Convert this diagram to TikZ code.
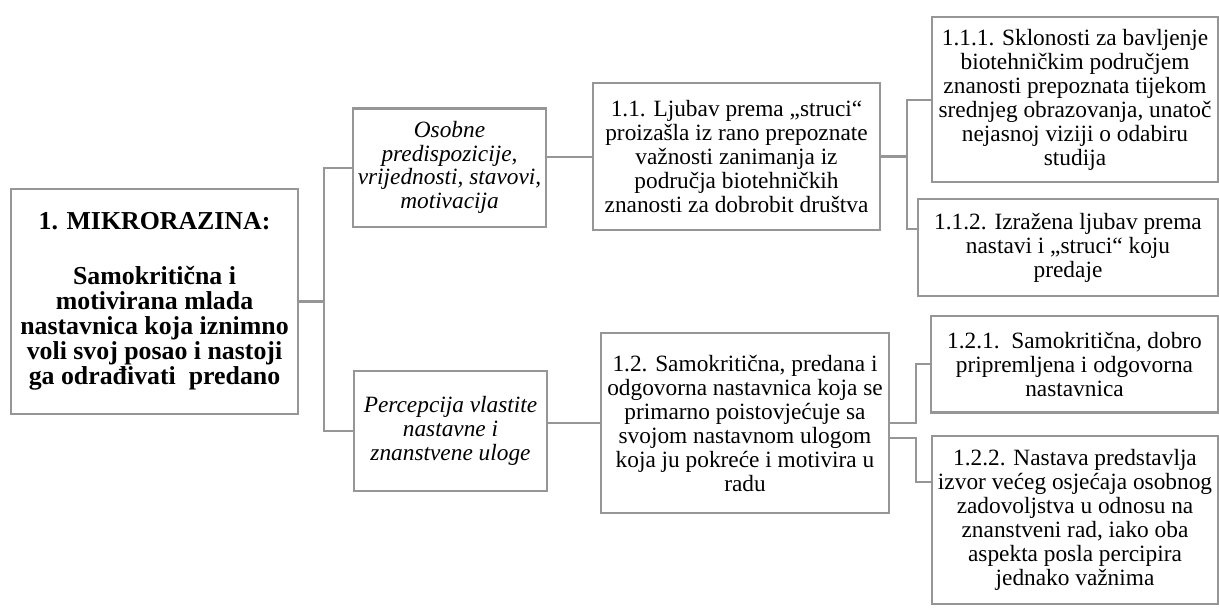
\documentclass[tikz,border=0pt]{standalone}
\usepackage{fontspec}
\setmainfont{Liberation Serif}
\definecolor{boxgray}{RGB}{150,150,150}

\begin{document}
\begin{tikzpicture}
		[
			x=0.6pt, y=-0.6pt,
			box/.style={draw=boxgray, line width=1.4pt, fill=white, align=center, inner sep=0pt, font=\fontsize{14}{14.4}\selectfont},
			rootbox/.style={box, font=\fontsize{15.5}{15}\selectfont\bfseries},
			midbox/.style={box, font=\fontsize{14}{14.2}\selectfont\itshape},
			edge/.style={draw=boxgray, line width=1.2pt},
			stem/.style={draw=boxgray, line width=2pt},
		]

		\useasboundingbox (0,0) rectangle (1219,608);

		% Nodes
		\node[rootbox, minimum width=172pt, minimum height=135pt] (root) at (154.5,301.5)
			{1. MIKRORAZINA:\\[18pt] Samokritična i\\ motivirana mlada\\ nastavnica koja iznimno\\ voli svoj posao i nastoji\\ ga odrađivati~ predano};
		\node[midbox, minimum width=116pt, minimum height=71pt] (osobne) at (449.5,167.5)
			{Osobne\\ predispozicije,\\ vrijednosti, stavovi,\\ motivacija};
		\node[midbox, minimum width=116pt, minimum height=72pt] (percep) at (450.5,431)
			{Percepcija vlastite\\ nastavne i\\ znanstvene uloge};
		\node[box, minimum width=172pt, minimum height=88pt] (b11) at (736.5,156.5)
			{1.1. Ljubav prema „struci“\\ proizašla iz rano prepoznate\\ važnosti zanimanja iz\\ područja biotehničkih\\ znanosti za dobrobit društva};
		\node[box, minimum width=173pt, minimum height=108pt] (b12) at (745,423)
			{1.2. Samokritična, predana i\\ odgovorna nastavnica koja se\\ primarno poistovjećuje sa\\ svojom nastavnom ulogom\\ koja ju pokreće i motivira u\\ radu};
		\node[box, minimum width=172pt, minimum height=99pt] (b111) at (1075,99.5)
			{1.1.1. Sklonosti za bavljenje\\ biotehničkim područjem\\ znanosti prepoznata tijekom\\ srednjeg obrazovanja, unatoč\\ nejasnoj viziji o odabiru\\ studija};
		\node[box, minimum width=180pt, minimum height=58pt] (b112) at (1068,247.5)
			{1.1.2. Izražena ljubav prema\\ nastavi i „struci“ koju\\ predaje};
		\node[box, minimum width=172pt, minimum height=58pt] (b121) at (1074.5,364)
			{1.2.1.~~Samokritična, dobro\\ pripremljena i odgovorna\\ nastavnica};
		\node[box, minimum width=172pt, minimum height=101pt] (b122) at (1075,520)
			{1.2.2. Nastava predstavlja\\ izvor većeg osjećaja osobnog\\ zadovoljstva u odnosu na\\ znanstveni rad, iako oba\\ aspekta posla percipira\\ jednako važnima};

		% Edges
		\foreach \u/\v/\s in
		{
			root/osobne/25,
			root/percep/25,
			b11/b111/26,
			b12/b121/26}
			\draw[edge] (\u.east) -- ++(\s,0) |- (\v.west);

		\draw[edge] (b11.east) -- ++(26,0) |- ([yshift=11pt]b112.west);
		\draw[edge] ([yshift=-9pt]b12.east) -- ++(26,0) |- ([yshift=23pt]b122.west);
		\draw[edge] (osobne.east |- b11.west) -- (b11.west);
		\draw[edge] (percep.east |- b12.west) -- (b12.west);

		% Stems
		\draw[stem] (root.east) -- ++(25,0);
		\draw[stem] (b11.east) -- ++(26,0);

		\end{tikzpicture}
\end{document}
